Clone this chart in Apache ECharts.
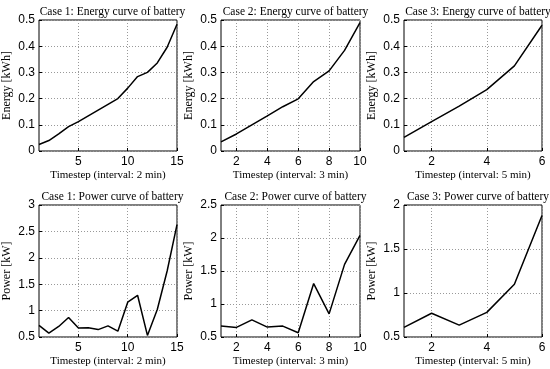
<!DOCTYPE html>
<html>
<head>
<meta charset="utf-8">
<script src="https://cdn.jsdelivr.net/npm/echarts@6/dist/echarts.min.js"></script>
<style>html,body{margin:0;padding:0;background:#fff;}#c{width:550px;height:369px;}</style>
</head>
<body>
<div id="c"></div>
<script>
// ---- data ----
const timestep1 = [1,2,3,4,5,6,7,8,9,10,11,12,13,14,15];
const energy1 = [0.025,0.04,0.065,0.093,0.112,0.134,0.156,0.178,0.200,0.240,0.284,0.300,0.336,0.396,0.484];
const power1 = [0.72,0.575,0.70,0.87,0.67,0.675,0.64,0.71,0.61,1.16,1.29,0.53,1.02,1.75,2.63];

const timestep2 = [1,2,3,4,5,6,7,8,9,10];
const energy2 = [0.035,0.065,0.100,0.134,0.169,0.199,0.265,0.306,0.384,0.490];
const power2 = [0.665,0.645,0.76,0.65,0.665,0.565,1.31,0.85,1.60,2.04];

const timestep3 = [1,2,3,4,5,6];
const energy3 = [0.052,0.112,0.171,0.234,0.325,0.480];
const power3 = [0.61,0.77,0.635,0.78,1.10,1.88];

// tick labels
const xTicks1 = [5,10,15];
const xTicks2 = [2,4,6,8,10];
const xTicks3 = [2,4,6];

const titles = [
  'Case 1: Energy curve of battery','Case 2: Energy curve of battery','Case 3: Energy curve of battery',
  'Case 1: Power curve of battery','Case 2: Power curve of battery','Case 3: Power curve of battery'
];
const xNames = ['Timestep (interval: 2 min)','Timestep (interval: 3 min)','Timestep (interval: 5 min)'];
const yNames = ['Energy [kWh]','Power [kW]'];

// axis ranges
const xRanges = [[1,15],[1,10],[1,6]];
const xTickSets = [xTicks1,xTicks2,xTicks3];
const yRanges = [[0,0.5,0.1],[0,0.5,0.1],[0,0.5,0.1],[0.5,3,0.5],[0.5,2.5,0.5],[0.5,2,0.5]];

// ---- layout ----
const colLeft = [38,221,404];
const colWidth = [139,139,138];
const rowTop = [20,205];
const rowHeight = [131,132];

const serif = 'Liberation Serif';
const sans = 'Liberation Sans';

const xs = [timestep1,timestep2,timestep3,timestep1,timestep2,timestep3];
const ys = [energy1,energy2,energy3,power1,power2,power3];

const grids=[], xAxes=[], yAxes=[], series=[], title=[];
for (let i=0;i<6;i++){
  const r = Math.floor(i/3), c = i%3;
  grids.push({left:colLeft[c], top:rowTop[r], width:colWidth[c], height:rowHeight[r],
    show:true, borderColor:'#000', borderWidth:1, backgroundColor:'#fff', containLabel:false});
  const xr = xRanges[c], yr = yRanges[i];
  xAxes.push({type:'value', gridIndex:i, min:xr[0], max:xr[1],
    name:xNames[c], nameLocation:'middle', nameGap:19,
    nameTextStyle:{fontFamily:serif, fontSize:11, color:'#000'},
    axisLine:{show:false},
    axisTick:{show:true, inside:true, length:3, lineStyle:{color:'#000'}, customValues:xTickSets[c]},
    axisLabel:{customValues:xTickSets[c], fontFamily:sans, fontSize:12, color:'#000', margin:5},
    splitLine:{show:true, lineStyle:{type:[1,2], color:'#999', width:1}}});
  yAxes.push({type:'value', gridIndex:i, min:yr[0], max:yr[1], interval:yr[2],
    name:yNames[r], nameLocation:'middle', nameGap:26, nameRotate:90,
    nameTextStyle:{fontFamily:serif, fontSize:12, color:'#000'},
    axisLine:{show:false},
    axisTick:{show:true, inside:true, length:3, lineStyle:{color:'#000'}},
    axisLabel:{fontFamily:sans, fontSize:12, color:'#000', margin:4},
    splitLine:{show:true, lineStyle:{type:[1,2], color:'#999', width:1}}});
  series.push({type:'line', xAxisIndex:i, yAxisIndex:i, showSymbol:false, symbol:'none',
    lineStyle:{color:'#000', width:1.5}, data: xs[i].map((t,k)=>[t, ys[i][k]])});
  title.push({text:titles[i], left: colLeft[c]+colWidth[c]/2, textAlign:'center',
    top: r===0 ? 1 : 186,
    textStyle:{fontFamily:serif, fontSize:11.5, fontWeight:'normal', color:'#000'}});
}

const chart = echarts.init(document.getElementById('c'), null, {renderer:'canvas'});
chart.setOption({animation:false, backgroundColor:'#fff', title, grid:grids, xAxis:xAxes, yAxis:yAxes, series});
</script>
</body>
</html>
